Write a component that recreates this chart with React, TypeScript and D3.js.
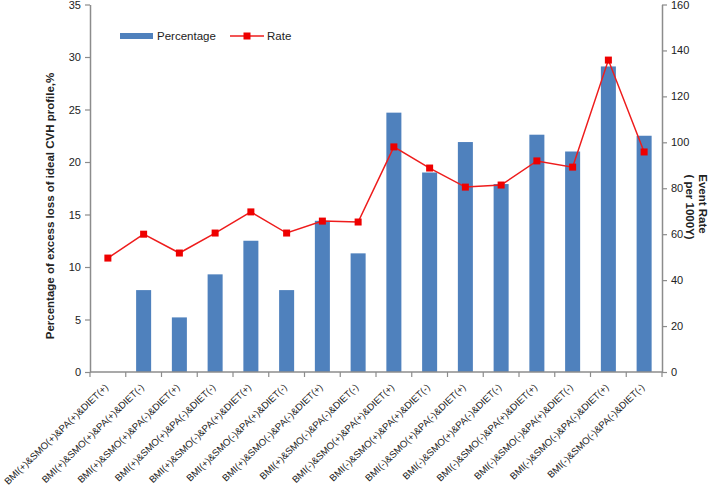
import React, { useEffect, useRef } from 'react';
import * as d3 from 'd3';

const categories = [
  'BMI(+)&SMO(+)&PA(+)&DIET(+)',
  'BMI(+)&SMO(+)&PA(+)&DIET(-)',
  'BMI(+)&SMO(+)&PA(-)&DIET(+)',
  'BMI(+)&SMO(+)&PA(-)&DIET(-)',
  'BMI(+)&SMO(-)&PA(+)&DIET(+)',
  'BMI(+)&SMO(-)&PA(+)&DIET(-)',
  'BMI(+)&SMO(-)&PA(-)&DIET(+)',
  'BMI(+)&SMO(-)&PA(-)&DIET(-)',
  'BMI(-)&SMO(+)&PA(+)&DIET(+)',
  'BMI(-)&SMO(+)&PA(+)&DIET(-)',
  'BMI(-)&SMO(+)&PA(-)&DIET(+)',
  'BMI(-)&SMO(+)&PA(-)&DIET(-)',
  'BMI(-)&SMO(-)&PA(+)&DIET(+)',
  'BMI(-)&SMO(-)&PA(+)&DIET(-)',
  'BMI(-)&SMO(-)&PA(-)&DIET(+)',
  'BMI(-)&SMO(-)&PA(-)&DIET(-)',
];
const percentage = [0, 7.8, 5.2, 9.3, 12.5, 7.8, 14.4, 11.3, 24.7, 19.0, 21.9, 17.9, 22.6, 21.0, 29.1, 22.5];
const rate = [49.6, 60, 51.8, 60.5, 69.7, 60.5, 65.7, 65.3, 98, 88.8, 80.5, 81.4, 91.9, 89.2, 135.8, 95.8];
const leftTicks = [0, 5, 10, 15, 20, 25, 30, 35];
const rightTicks = [0, 20, 40, 60, 80, 100, 120, 140, 160];

export default function App() {
  const ref = useRef<SVGSVGElement>(null);

  useEffect(() => {
    const svg = d3.select(ref.current);
    svg.selectAll('*').remove();
    const font = 'Liberation Sans, Arial, sans-serif';
    const left = 90, right = 662, top = 4.5, bottom = 372;

    const x = d3.scaleBand().domain(categories).range([left, right]).paddingInner(0.58).paddingOuter(0.29);
    const yL = d3.scaleLinear().domain([0, 35]).range([bottom, top]);
    const yR = d3.scaleLinear().domain([0, 160]).range([bottom, top]);
    const step = x.step();

    // bars
    svg.append('g').selectAll('rect').data(percentage).join('rect')
      .attr('x', (d, i) => x(categories[i])!)
      .attr('y', (d) => yL(d))
      .attr('width', x.bandwidth())
      .attr('height', (d) => bottom - yL(d))
      .attr('fill', '#4f81bd');

    // axes
    const axisColor = '#8c8c8c';
    const gL = svg.append('g').attr('transform', `translate(${left},0)`)
      .call(d3.axisLeft(yL).tickValues(leftTicks).tickSize(5).tickSizeOuter(0));
    const gR = svg.append('g').attr('transform', `translate(${right},0)`)
      .call(d3.axisRight(yR).tickValues(rightTicks).tickSize(5).tickSizeOuter(0));
    [gL, gR].forEach((g) => {
      g.select('.domain').attr('stroke', axisColor).attr('stroke-width', 1.5);
      g.selectAll('.tick line').attr('stroke', axisColor).attr('stroke-width', 1.2);
      g.selectAll('.tick text').attr('fill', '#222').attr('font-size', 11).attr('font-family', font);
    });
    gL.selectAll('.tick text').attr('x', -9);
    gR.selectAll('.tick text').attr('x', 9);

    // bottom axis
    const gB = svg.append('g');
    gB.append('line').attr('x1', left).attr('x2', right).attr('y1', bottom).attr('y2', bottom)
      .attr('stroke', axisColor).attr('stroke-width', 1.5);
    gB.selectAll('line.t').data(d3.range(categories.length + 1)).join('line')
      .attr('class', 't')
      .attr('x1', (i) => left + i * step).attr('x2', (i) => left + i * step)
      .attr('y1', bottom).attr('y2', bottom + 5)
      .attr('stroke', axisColor).attr('stroke-width', 1.2);
    gB.selectAll('text').data(categories).join('text')
      .attr('transform', (d) => `translate(${x(d)! + x.bandwidth() / 2 + 1},${bottom + 16}) rotate(-44)`)
      .attr('text-anchor', 'end')
      .attr('font-size', 9.6)
      .attr('font-family', font)
      .attr('fill', '#222')
      .text((d) => d);

    // rate line
    const cx = (i: number) => x(categories[i])! + x.bandwidth() / 2;
    const line = d3.line<number>().x((d, i) => cx(i)).y((d) => yR(d));
    svg.append('path').datum(rate).attr('d', line).attr('fill', 'none')
      .attr('stroke', '#ee1c1c').attr('stroke-width', 1.5);
    svg.append('g').selectAll('rect').data(rate).join('rect')
      .attr('x', (d, i) => cx(i) - 3.5).attr('y', (d) => yR(d) - 3.5)
      .attr('width', 7).attr('height', 7).attr('fill', '#ee0000');

    // axis titles
    svg.append('text')
      .attr('transform', `translate(54,206) rotate(-90)`)
      .attr('text-anchor', 'middle').attr('font-size', 11.5).attr('font-weight', 'bold')
      .attr('font-family', font).attr('fill', '#222')
      .text('Percentage of excess loss of ideal CVH profile,%');
    svg.append('text')
      .attr('transform', `translate(699,204) rotate(90)`)
      .attr('text-anchor', 'middle').attr('font-size', 11.5).attr('font-weight', 'bold')
      .attr('font-family', font).attr('fill', '#222')
      .text('Event Rate');
    svg.append('text')
      .attr('transform', `translate(686,207) rotate(90)`)
      .attr('text-anchor', 'middle').attr('font-size', 11.5).attr('font-weight', 'bold')
      .attr('font-family', font).attr('fill', '#222')
      .text('( per 1000Y)');

    // legend
    const lg = svg.append('g');
    lg.append('rect').attr('x', 120).attr('y', 33).attr('width', 33).attr('height', 6).attr('fill', '#4f81bd');
    lg.append('text').attr('x', 157).attr('y', 40).attr('font-size', 11.5).attr('font-family', font)
      .attr('fill', '#222').text('Percentage');
    lg.append('line').attr('x1', 230).attr('x2', 264).attr('y1', 36).attr('y2', 36)
      .attr('stroke', '#ee1c1c').attr('stroke-width', 1.5);
    lg.append('rect').attr('x', 243.5).attr('y', 32.5).attr('width', 7).attr('height', 7).attr('fill', '#ee0000');
    lg.append('text').attr('x', 267).attr('y', 40).attr('font-size', 11.5).attr('font-family', font)
      .attr('fill', '#222').text('Rate');
  }, []);

  return (
    <svg ref={ref} width={709} height={490} style={{ position: 'absolute', left: 0, top: 0, background: '#fff' }} />
  );
}
